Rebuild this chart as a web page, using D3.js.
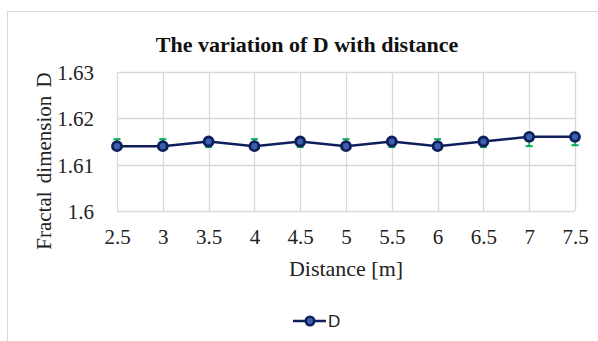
<!DOCTYPE html>
<html>
<head>
<script src="https://cdn.jsdelivr.net/npm/d3@7"></script>
<style>
  body { margin: 0; background: #fff; }
</style>
</head>
<body>
<script>

var distances = [2.5, 3, 3.5, 4, 4.5, 5, 5.5, 6, 6.5, 7, 7.5]
var dValues  = [1.614, 1.614, 1.615, 1.614, 1.615, 1.614, 1.615, 1.614, 1.615, 1.616, 1.616]
var errPlus  = [0.0015, 0.0015, 0.0004, 0.0015, 0.0004, 0.0015, 0.0004, 0.0015, 0.0004, 0.0003, 0.0003]
var errMinus = [0.0005, 0.0005, 0.0012, 0.0005, 0.0012, 0.0005, 0.0012, 0.0005, 0.0012, 0.002, 0.0018]
var yTicks = [1.6, 1.61, 1.62, 1.63]

var width = 598, height = 341
var plot = {left: 117, top: 72, right: 575, bottom: 211}
var serif = "'Liberation Serif', 'Times New Roman', serif"

var svg = d3.select("body").append("svg")
            .attr("width", width)
            .attr("height", height)

// chart area border
svg.append("rect")
   .attr("x", 7.5).attr("y", 11.5)
   .attr("width", 620).attr("height", 360)
   .style("fill", "white")
   .style("stroke", "#d9d9d9")

var x = d3.scalePoint().domain(distances).range([plot.left, plot.right])
var y = d3.scaleLinear().domain([1.6, 1.63]).range([plot.bottom, plot.top])

// gridlines
svg.append("g").selectAll("line").data(yTicks).enter().append("line")
   .attr("x1", plot.left).attr("x2", plot.right)
   .attr("y1", function(d){ return Math.round(y(d)) + 0.5 })
   .attr("y2", function(d){ return Math.round(y(d)) + 0.5 })
   .style("stroke", "#d9d9d9").style("stroke-width", 1.3)

svg.append("g").selectAll("line").data(distances).enter().append("line")
   .attr("x1", function(d){ return Math.round(x(d)) + 0.5 })
   .attr("x2", function(d){ return Math.round(x(d)) + 0.5 })
   .attr("y1", plot.top).attr("y2", plot.bottom)
   .style("stroke", "#d9d9d9").style("stroke-width", 1.3)

// axes (labels only)
var yAxis = svg.append("g")
   .attr("transform", "translate(" + (plot.left - 20) + ",0)")
   .call(d3.axisLeft(y).tickValues(yTicks).tickSize(0).tickFormat(d3.format("")))
yAxis.select(".domain").remove()
yAxis.selectAll("text")
     .style("font-family", serif)
     .style("font-size", "21px").style("fill", "#222")
     .attr("dy", "0.35em")

var xAxis = svg.append("g")
   .attr("transform", "translate(0," + (plot.bottom + 15) + ")")
   .call(d3.axisBottom(x).tickSize(0).tickFormat(d3.format("")))
xAxis.select(".domain").remove()
xAxis.selectAll("text")
     .style("font-family", serif)
     .style("font-size", "21px").style("fill", "#222")
     .attr("dy", "0.71em")

// titles
svg.append("text")
   .attr("x", 307).attr("y", 52)
   .attr("text-anchor", "middle")
   .style("font-family", serif)
   .style("font-weight", "bold").style("font-size", "22px").style("fill", "#111")
   .text("The variation of D with distance")

svg.append("text")
   .attr("x", (plot.left + plot.right) / 2).attr("y", 276)
   .attr("text-anchor", "middle")
   .style("font-family", serif)
   .style("font-size", "22px").style("fill", "#222")
   .text("Distance [m]")

svg.append("text")
   .attr("transform", "translate(51,161) rotate(-90)")
   .attr("text-anchor", "middle")
   .style("font-family", serif)
   .style("font-size", "21px").style("fill", "#222")
   .style("word-spacing", "3px")
   .text("Fractal dimension D")

var data = distances.map(function(d, i){
	return {x: d, v: dValues[i], hi: dValues[i] + errPlus[i], lo: dValues[i] - errMinus[i]}
})

// error bars
var green = "#00b050"
var eb = svg.append("g").selectAll("g").data(data).enter().append("g")
eb.append("line")
  .attr("x1", function(d){ return x(d.x) }).attr("x2", function(d){ return x(d.x) })
  .attr("y1", function(d){ return y(d.hi) }).attr("y2", function(d){ return y(d.lo) })
  .style("stroke", green).style("stroke-width", 1.5)
eb.append("line")
  .attr("x1", function(d){ return x(d.x) - 3.5 }).attr("x2", function(d){ return x(d.x) + 3.5 })
  .attr("y1", function(d){ return y(d.hi) }).attr("y2", function(d){ return y(d.hi) })
  .style("stroke", green).style("stroke-width", 2)
eb.append("line")
  .attr("x1", function(d){ return x(d.x) - 3.5 }).attr("x2", function(d){ return x(d.x) + 3.5 })
  .attr("y1", function(d){ return y(d.lo) }).attr("y2", function(d){ return y(d.lo) })
  .style("stroke", green).style("stroke-width", 2)

// series line + markers
var navy = "#0e1f5b"
svg.append("path").datum(data)
   .attr("d", d3.line().x(function(d){ return x(d.x) }).y(function(d){ return y(d.v) }))
   .style("fill", "none").style("stroke", navy).style("stroke-width", 2.5)

svg.append("g").selectAll("circle").data(data).enter().append("circle")
   .attr("cx", function(d){ return x(d.x) }).attr("cy", function(d){ return y(d.v) })
   .attr("r", 4.5)
   .style("fill", "#3d5fae").style("stroke", navy).style("stroke-width", 2.8)

// legend
var lg = svg.append("g")
lg.append("line").attr("x1", 293).attr("x2", 326).attr("y1", 321).attr("y2", 321)
  .style("stroke", navy).style("stroke-width", 2.5)
lg.append("circle").attr("cx", 310).attr("cy", 321).attr("r", 4.2)
  .style("fill", "#3d5fae").style("stroke", navy).style("stroke-width", 2.6)
lg.append("text").attr("x", 328).attr("y", 327)
  .style("font-family", "'Liberation Sans', Arial, sans-serif")
  .style("font-size", "17px").style("fill", "#222")
  .text("D")

</script>
</body>
</html>
